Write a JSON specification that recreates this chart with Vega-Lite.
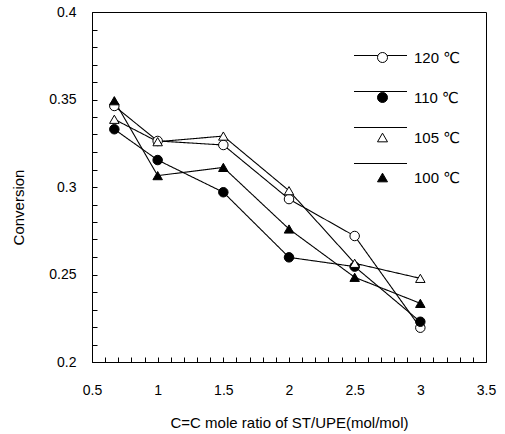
{
  "$schema": "https://vega.github.io/schema/vega-lite/v6.json",
  "width": 394,
  "height": 350,
  "autosize": {"type": "none"},
  "padding": {"left": 92, "top": 12, "right": 19, "bottom": 72},
  "background": "white",
  "config": {
    "view": {"stroke": "black", "strokeWidth": 1},
    "font": "Liberation Sans, DejaVu Sans, sans-serif",
    "axis": {
      "grid": false,
      "ticks": true,
      "tickWidth": 1,
      "tickSize": -5,
      "domainColor": "black",
      "tickColor": "black",
      "labelColor": "black",
      "titleColor": "black",
      "labelFontSize": 14,
      "titleFontSize": 15,
      "titleFontWeight": "normal",
      "labelFlush": false,
      "labelOverlap": false
    }
  },
  "data": {
    "values": [
      {"x": 0.67, "y": 0.3463, "T": "120 ℃"},
      {"x": 1, "y": 0.3263, "T": "120 ℃"},
      {"x": 1.5, "y": 0.324, "T": "120 ℃"},
      {"x": 2, "y": 0.2931, "T": "120 ℃"},
      {"x": 2.5, "y": 0.272, "T": "120 ℃"},
      {"x": 3, "y": 0.2196, "T": "120 ℃"},
      {"x": 0.67, "y": 0.333, "T": "110 ℃"},
      {"x": 1, "y": 0.3154, "T": "110 ℃"},
      {"x": 1.5, "y": 0.297, "T": "110 ℃"},
      {"x": 2, "y": 0.2598, "T": "110 ℃"},
      {"x": 2.5, "y": 0.2545, "T": "110 ℃"},
      {"x": 3, "y": 0.223, "T": "110 ℃"},
      {"x": 0.67, "y": 0.3387, "T": "105 ℃"},
      {"x": 1, "y": 0.3259, "T": "105 ℃"},
      {"x": 1.5, "y": 0.3291, "T": "105 ℃"},
      {"x": 2, "y": 0.2979, "T": "105 ℃"},
      {"x": 2.5, "y": 0.2564, "T": "105 ℃"},
      {"x": 3, "y": 0.2478, "T": "105 ℃"},
      {"x": 0.67, "y": 0.3493, "T": "100 ℃"},
      {"x": 1, "y": 0.3065, "T": "100 ℃"},
      {"x": 1.5, "y": 0.3112, "T": "100 ℃"},
      {"x": 2, "y": 0.276, "T": "100 ℃"},
      {"x": 2.5, "y": 0.2484, "T": "100 ℃"},
      {"x": 3, "y": 0.2335, "T": "100 ℃"}
    ]
  },
  "encoding": {
    "x": {
      "field": "x",
      "type": "quantitative",
      "scale": {"domain": [0.5, 3.5], "nice": false, "zero": false},
      "axis": {
        "title": "C=C mole ratio of ST/UPE(mol/mol)",
        "values": [0.5, 0.6, 0.7, 0.8, 0.9, 1, 1.1, 1.2, 1.3, 1.4, 1.5, 1.6, 1.7, 1.8, 1.9, 2, 2.1, 2.2, 2.3, 2.4, 2.5, 2.6, 2.7, 2.8, 2.9, 3, 3.1, 3.2, 3.3, 3.4, 3.5],
        "format": "~g",
        "labelExpr": "abs(datum.value*2-round(datum.value*2))<0.001 ? datum.label : ''",
        "labelPadding": 26,
        "titleY": 60,
        "titleBaseline": "middle"
      }
    },
    "y": {
      "field": "y",
      "type": "quantitative",
      "scale": {"domain": [0.2, 0.4], "nice": false, "zero": false},
      "axis": {
        "title": "Conversion",
        "values": [0.2, 0.21, 0.22, 0.23, 0.24, 0.25, 0.26, 0.27, 0.28, 0.29, 0.3, 0.31, 0.32, 0.33, 0.34, 0.35, 0.36, 0.37, 0.38, 0.39, 0.4],
        "format": "~g",
        "labelExpr": "abs(datum.value*20-round(datum.value*20))<0.001 ? datum.label : ''",
        "labelPadding": 21,
        "titleX": -74,
        "titleY": 195,
        "titleBaseline": "middle"
      }
    }
  },
  "layer": [
    {
      "mark": {"type": "line", "color": "black", "strokeWidth": 1.1},
      "encoding": {
        "detail": {"field": "T"},
        "strokeDash": {
          "field": "T",
          "type": "nominal",
          "sort": ["120 ℃", "110 ℃", "105 ℃", "100 ℃"],
          "scale": {"range": [[1, 0], [1, 0], [1, 0], [1, 0]]},
          "legend": {
            "title": null,
            "orient": "none",
            "legendX": 261,
            "legendY": 16,
            "padding": 0,
            "symbolType": "stroke",
            "symbolSize": 2809,
            "symbolStrokeColor": "black",
            "symbolStrokeWidth": 1.1,
            "labelFontSize": 15,
            "labelExpr": "''",
            "labelOpacity": 0,
            "rowPadding": -7.5
          }
        }
      }
    },
    {
      "mark": {"type": "point", "filled": true, "strokeWidth": 1, "size": 90, "opacity": 1},
      "encoding": {
        "shape": {
          "field": "T",
          "type": "nominal",
          "scale": {"domain": ["120 ℃", "110 ℃", "105 ℃", "100 ℃"], "range": ["circle", "circle", "triangle-up", "triangle-up"]},
          "legend": {
            "title": null,
            "orient": "none",
            "legendX": 283,
            "legendY": 38,
            "padding": 0,
            "symbolSize": 100,
            "symbolStrokeWidth": 1,
            "labelFontSize": 15,
            "labelColor": "black",
            "labelOffset": 24,
            "rowPadding": 24
          }
        },
        "fill": {
          "field": "T",
          "type": "nominal",
          "scale": {"domain": ["120 ℃", "110 ℃", "105 ℃", "100 ℃"], "range": ["white", "black", "white", "black"]},
          "legend": {
            "title": null,
            "orient": "none",
            "legendX": 283,
            "legendY": 38,
            "padding": 0,
            "symbolSize": 100,
            "symbolStrokeWidth": 1,
            "labelFontSize": 15,
            "labelColor": "black",
            "labelOffset": 24,
            "rowPadding": 24
          }
        },
        "stroke": {
          "field": "T",
          "type": "nominal",
          "scale": {"domain": ["120 ℃", "110 ℃", "105 ℃", "100 ℃"], "range": ["black", "black", "black", "black"]},
          "legend": {
            "title": null,
            "orient": "none",
            "legendX": 283,
            "legendY": 38,
            "padding": 0,
            "symbolSize": 100,
            "symbolStrokeWidth": 1,
            "labelFontSize": 15,
            "labelColor": "black",
            "labelOffset": 24,
            "rowPadding": 24
          }
        }
      }
    }
  ]
}
